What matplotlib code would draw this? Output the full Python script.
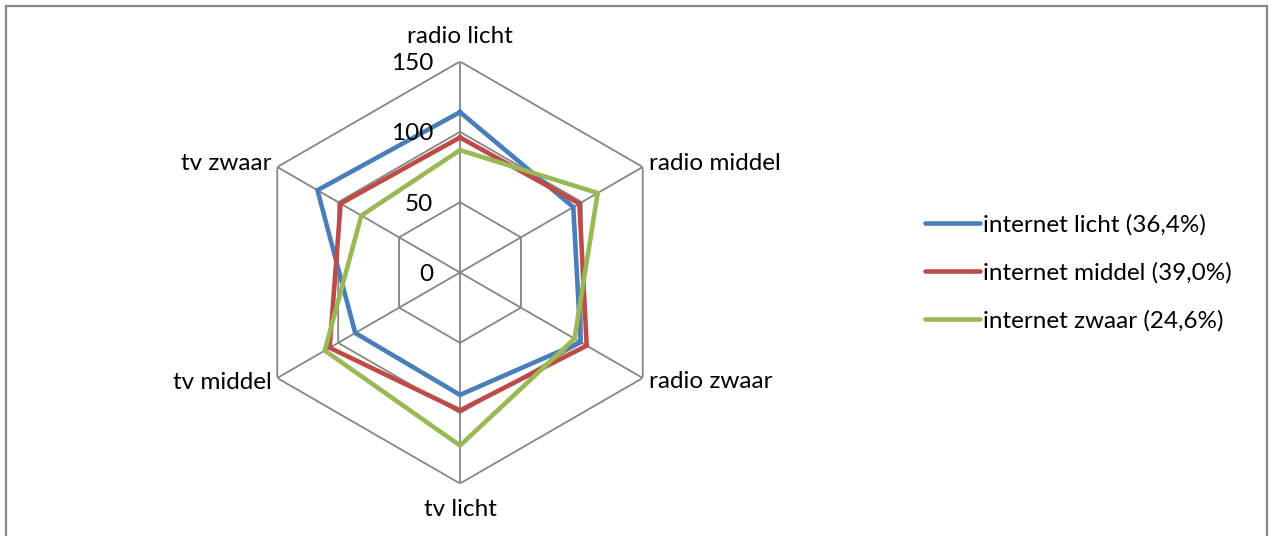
import numpy as np
import matplotlib
matplotlib.use('Agg')
import matplotlib.pyplot as plt
from matplotlib.transforms import offset_copy
from matplotlib.patches import Rectangle

'''
Radar chart: media use per internet group
'''

categories = ['radio licht', 'radio middel', 'radio zwaar', 'tv licht', 'tv middel', 'tv zwaar']
internet_licht = [114, 93, 99, 87, 86, 117]
internet_middel = [96, 98, 104, 98, 107, 98]
internet_zwaar = [87, 113, 94, 123, 111, 81]
series_names = ['internet licht (36,4%)', 'internet middel (39,0%)', 'internet zwaar (24,6%)']
series_colors = ['#4A7EBB', '#BE4B48', '#98B954']
r_ticks = [0, 50, 100, 150]

plt.rcParams['font.family'] = ['Lato', 'DejaVu Sans']
W, H = 1269, 536
fig = plt.figure(figsize=(W / 100, H / 100), dpi=100)

# outer chart frame
fig.patches.append(Rectangle((6 / W, -0.05), (1267 - 6) / W, 1.05 - 6 / H,
                             transform=fig.transFigure, fill=False,
                             edgecolor='#888888', linewidth=1.6))

cx, cy, R = 460, 272.5, 211
ax = fig.add_axes([(cx - R) / W, (H - cy - R) / H, 2 * R / W, 2 * R / H], projection='polar')
ax.set_theta_offset(np.pi / 2)
ax.set_theta_direction(-1)
ax.set_ylim(0, 150)
ax.grid(False)
ax.spines['polar'].set_visible(False)
ax.set_xticks([])
ax.set_yticks([])
ax.patch.set_visible(False)

n = len(categories)
angles = np.arange(n) * 2 * np.pi / n
closed = np.append(angles, angles[0])

grid_c = '#868686'
for r in r_ticks[1:]:
    ax.plot(closed, [r] * (n + 1), color=grid_c, lw=1.3, zorder=1)
for a in angles:
    ax.plot([a, a], [0, 150], color=grid_c, lw=1.3, zorder=1)

for vals, name, col in zip([internet_licht, internet_middel, internet_zwaar], series_names, series_colors):
    ax.plot(closed, vals + vals[:1], color=col, lw=3.3, label=name, zorder=3,
            solid_joinstyle='miter')

fs = 17.5
tr = offset_copy(ax.transData, fig, x=-27, y=-2, units='dots')
for r in r_ticks:
    ax.text(0, r, str(r), transform=tr, ha='right', va='center', fontsize=fs)

# category labels
lab_off = [(0, 25, 'center'), (6, 4, 'left'), (6, -4, 'left'),
           (0, -26, 'center'), (-6, -4, 'right'), (-6, 4, 'right')]
for a, lab, (dx, dy, ha) in zip(angles, categories, lab_off):
    t = offset_copy(ax.transData, fig, x=dx, y=dy, units='dots')
    ax.text(a, 150, lab, transform=t, ha=ha, va='center', fontsize=fs)

leg = ax.legend(loc='center left', bbox_to_anchor=(903 / W, 1 - 273 / H),
                bbox_transform=fig.transFigure, frameon=False, fontsize=fs,
                handlelength=2.26, handletextpad=0.12, labelspacing=1.08)
for line in leg.get_lines():
    line.set_linewidth(3.3)
    line.set_solid_capstyle('round')

fig.savefig('out.png', dpi=100)
